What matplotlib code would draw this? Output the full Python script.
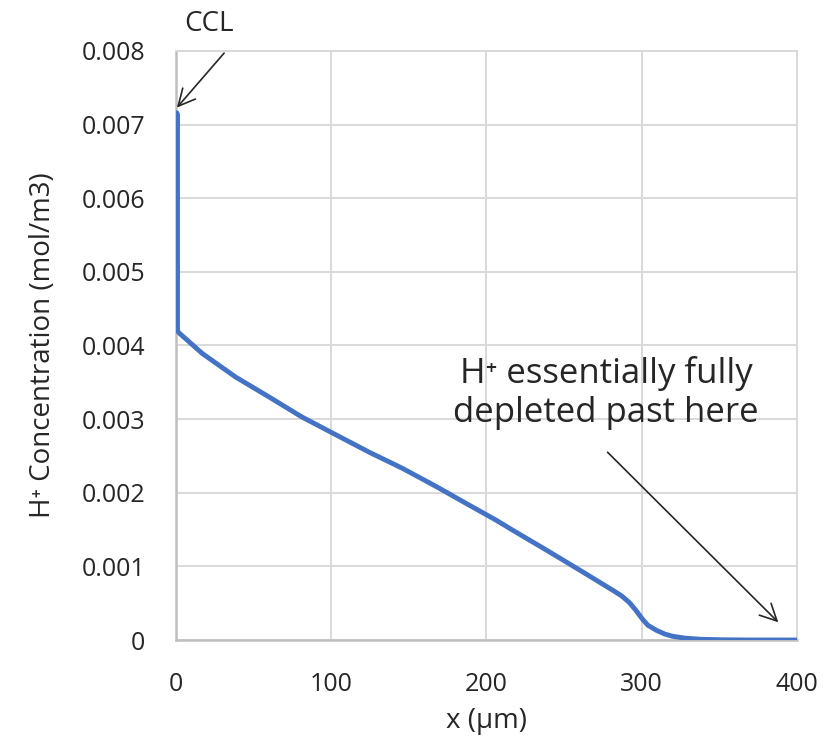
import numpy as np
import matplotlib
matplotlib.use("Agg")
import matplotlib.pyplot as plt

plt.rcParams['font.family'] = ['Open Sans', 'DejaVu Sans']

# H+ concentration profile through the layer
x_um = [0.5, 1, 1, 2, 17, 38.5, 60, 81, 100, 124.5, 146, 168, 189, 206, 217, 238.7,
        260, 281, 287, 292, 296, 300.6, 304, 309.6, 315, 320, 328, 338, 352, 370, 400]
conc = [0.00716, 0.00714, 0.0042, 0.00417, 0.00389, 0.00357, 0.00330, 0.00303, 0.00282,
        0.00255, 0.00233, 0.00208, 0.00183, 0.00163, 0.00149, 0.00122,
        0.00095, 0.00068, 0.00060, 0.00051, 0.00041, 0.00028, 0.00020, 0.00013, 0.00008,
        0.00005, 0.000025, 0.000010, 0.000003, 0.0, 0.0]

x_ticks = [0, 100, 200, 300, 400]
y_ticks = [0, 0.001, 0.002, 0.003, 0.004, 0.005, 0.006, 0.007, 0.008]
y_labels = ['0', '0.001', '0.002', '0.003', '0.004', '0.005', '0.006', '0.007', '0.008']

txt = '#262626'

fig = plt.figure(figsize=(8.25, 7.41), dpi=100)
ax = fig.add_axes([0.2133, 0.1363, 0.7527, 0.795])

ax.plot(x_um, conc, color='#4472C4', lw=3.5, solid_capstyle='round', solid_joinstyle='round', zorder=3)

ax.set_xlim(0, 400)
ax.set_ylim(0, 0.008)
ax.set_xticks(x_ticks)
ax.set_yticks(y_ticks)
ax.set_yticklabels(y_labels)
ax.tick_params(length=0, labelsize=18, colors=txt)
ax.tick_params(axis='y', pad=22)
ax.tick_params(axis='x', pad=23)
ax.grid(True, color='#d9d9d9', lw=1.4)
ax.set_axisbelow(True)
for side in ['top', 'right']:
    ax.spines[side].set_color('#d9d9d9')
    ax.spines[side].set_linewidth(1.4)
for side in ['left', 'bottom']:
    ax.spines[side].set_color('#bfbfbf')
    ax.spines[side].set_linewidth(1.8)

ax.set_xlabel('x (\u03bcm)', fontsize=20, color=txt, labelpad=7)
ax.set_ylabel('H\u207a Concentration (mol/m3)', fontsize=20, color=txt, labelpad=18)

arrow = dict(arrowstyle='->, head_length=0.6, head_width=0.3', color=txt, lw=1.2,
             mutation_scale=20, shrinkA=0, shrinkB=0)

ax.text(21, 0.00836, 'CCL', fontsize=20, color=txt, ha='center', va='center', clip_on=False)
ax.annotate('', xy=(0.6, 0.00723), xytext=(31, 0.00797), annotation_clip=False, arrowprops=arrow)

ax.annotate('', xy=(388, 0.00024), xytext=(278, 0.00255), arrowprops=arrow)
ax.text(277, 0.00335, 'H\u207a essentially fully\ndepleted past here', fontsize=25,
        color=txt, ha='center', va='center', linespacing=1.2)

fig.savefig('out.png', dpi=100)
